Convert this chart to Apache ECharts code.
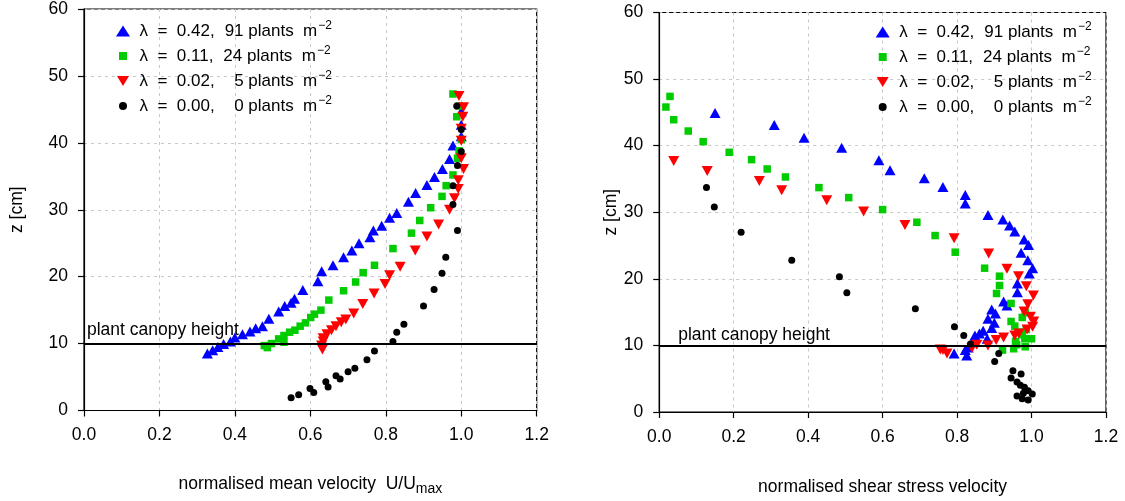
<!DOCTYPE html>
<html>
<head>
<meta charset="utf-8">
<script src="https://cdn.jsdelivr.net/npm/echarts@6/dist/echarts.min.js"></script>
<style>html,body{margin:0;padding:0;background:#fff}#c{width:1125px;height:501px}</style>
</head>
<body>
<div id="c"></div>
<script>
// ---- data ----
const lambdas = ['0.42', '0.11', '0.02', '0.00'];
const plants = ['91', '24', '5', '0'];
const canopyHeight = 10;
const canopyLabel = 'plant canopy height';
const leftXTitle = 'normalised mean velocity  U/U';
const leftXSub = 'max';
const rightXTitle = 'normalised shear stress velocity';
const yTitle = 'z [cm]';

// left panel: normalised mean velocity vs z
const leftBlue = [[1.0,44.7],[1.0,42.7],[1.0,41.0],[0.978,39.6],[0.969,37.6],[0.95,36.1],[0.929,34.9],[0.909,33.7],[0.879,32.5],[0.86,31.2],[0.829,29.5],[0.81,28.8],[0.789,27.6],[0.767,26.9],[0.758,25.9],[0.729,25.0],[0.71,23.9],[0.688,22.9],[0.66,21.7],[0.63,20.8],[0.62,19.3],[0.58,18.0],[0.558,16.7],[0.549,16.1],[0.532,15.6],[0.516,14.8],[0.49,13.7],[0.473,12.6],[0.455,12.3],[0.44,11.8],[0.42,11.4],[0.40,10.9],[0.388,10.3],[0.37,9.95],[0.355,9.5],[0.341,9.0],[0.327,8.5]];
const leftGreen = [[0.978,47.3],[0.994,45.5],[0.988,43.9],[1.0,40.5],[0.994,38.8],[0.99,37.7],[0.978,35.2],[0.96,33.6],[0.949,32.0],[0.919,30.3],[0.89,28.4],[0.868,26.5],[0.819,24.2],[0.77,21.7],[0.74,20.6],[0.72,19.2],[0.688,17.9],[0.649,16.5],[0.628,15.0],[0.611,14.4],[0.601,13.9],[0.587,13.1],[0.573,12.6],[0.559,12.0],[0.545,11.7],[0.53,11.2],[0.516,10.7],[0.53,10.2],[0.497,10.0],[0.478,9.7],[0.486,9.4]];
const leftRed = [[0.994,47.0],[1.006,45.3],[1.004,43.9],[1.0,42.1],[1.0,40.3],[1.0,37.7],[1.006,36.1],[0.992,34.4],[0.992,33.1],[0.982,31.7],[0.969,30.0],[0.94,27.8],[0.909,26.0],[0.878,23.9],[0.838,21.5],[0.81,20.2],[0.798,18.9],[0.769,17.5],[0.739,15.9],[0.715,14.5],[0.694,13.6],[0.682,13.2],[0.668,12.6],[0.656,12.0],[0.644,11.4],[0.634,10.8],[0.634,10.3],[0.63,9.7],[0.632,9.1]];
const leftBlack = [[0.988,45.5],[1.0,42.0],[1.0,38.7],[0.99,36.6],[0.978,33.6],[0.978,30.8],[0.99,26.9],[0.959,22.9],[0.949,20.5],[0.928,18.1],[0.9,15.6],[0.848,12.9],[0.829,11.7],[0.819,10.3],[0.77,8.9],[0.75,7.6],[0.718,6.3],[0.70,5.8],[0.679,4.7],[0.668,5.2],[0.647,3.5],[0.641,4.3],[0.609,2.7],[0.599,3.3],[0.569,2.35],[0.549,1.9]];

// right panel: normalised shear stress velocity vs z
const rightBlue = [[0.15,44.9],[0.309,43.1],[0.389,41.2],[0.49,39.7],[0.59,37.8],[0.62,36.3],[0.712,35.1],[0.762,33.8],[0.822,32.6],[0.822,31.3],[0.883,29.6],[0.923,28.9],[0.941,28.0],[0.955,27.1],[0.98,25.9],[0.992,25.1],[0.972,23.9],[0.99,22.8],[1.003,21.6],[0.994,20.8],[0.962,19.3],[0.962,18.0],[0.925,16.6],[0.934,16.0],[0.893,15.4],[0.903,14.8],[0.883,14.0],[0.9,13.4],[0.893,12.6],[0.87,12.2],[0.86,11.8],[0.848,11.5],[0.881,11.0],[0.843,10.5],[0.83,9.7],[0.822,9.3],[0.826,8.5],[0.792,8.8]];
const rightGreen = [[0.029,47.4],[0.018,45.8],[0.039,43.9],[0.078,42.2],[0.118,40.6],[0.188,39.0],[0.248,37.9],[0.29,36.5],[0.339,35.3],[0.429,33.7],[0.509,32.2],[0.6,30.4],[0.692,28.5],[0.741,26.5],[0.795,24.0],[0.874,21.6],[0.914,20.4],[0.914,19.0],[0.906,17.8],[0.945,16.3],[0.983,14.9],[0.975,14.2],[0.945,13.6],[0.955,12.9],[0.986,12.4],[0.965,12.0],[0.975,11.6],[1.0,11.0],[0.982,11.0],[0.957,10.6],[0.96,10.1],[0.983,9.8],[0.952,9.5],[0.922,9.3]];
const rightRed = [[0.039,37.7],[0.129,36.2],[0.269,34.7],[0.329,33.3],[0.45,31.8],[0.549,30.1],[0.66,28.1],[0.792,26.1],[0.885,23.8],[0.934,21.5],[0.965,20.4],[0.986,18.9],[1.005,17.5],[0.99,16.2],[0.98,15.1],[0.997,14.3],[1.006,13.6],[1.003,12.8],[0.988,12.4],[0.966,11.8],[0.955,11.5],[0.925,11.2],[0.905,10.8],[0.883,10.0],[0.853,10.1],[0.84,9.6],[0.762,9.3],[0.773,8.8],[0.755,9.4]];
const rightBlack = [[0.127,33.7],[0.148,30.8],[0.22,27.0],[0.356,22.8],[0.484,20.3],[0.504,17.9],[0.688,15.5],[0.793,12.8],[0.818,11.5],[0.836,10.2],[0.912,8.8],[0.901,7.6],[0.95,6.2],[0.972,5.7],[0.945,5.1],[0.961,4.5],[0.97,4.0],[0.981,3.7],[0.991,3.2],[1.002,2.7],[0.978,2.8],[0.961,2.4],[0.975,2.0],[0.991,1.8]];

// ---- chart ----
const FONT = "'Liberation Sans', Arial, sans-serif";
const FS = 17.5;
const LFS = 17;
const colors = ['#0000ff', '#00cc00', '#ff0000', '#000000'];
const symbols = ['triangle', 'rect', 'path://M0,0L10,0L5,10Z', 'circle'];
const sizes = [[11, 10], 7.5, [11, 10], 7];
// legend icons drawn in a 15x12 box (invisible corner moves keep the box size)
const legendIcons = [
  'path://M0,0M15,12M0.5,11.5L7.5,0.5L14.5,11.5Z',
  'path://M0,0M15,12M3.5,2h8v8h-8z',
  'path://M0,0M15,12M1.5,1h12l-6,10z',
  'path://M0,0M15,12M3.5,6a4,4 0 1,0 8,0a4,4 0 1,0 -8,0z'
];
const names = lambdas.map(l => 'λ = ' + l);

const chart = echarts.init(document.getElementById('c'), null, {renderer: 'canvas'});

function xAxisCfg(gi, nameRich, gap) {
  return {
    type: 'value', gridIndex: gi, min: 0, max: 1.2, interval: 0.2,
    axisLine: {show: true, onZero: false, lineStyle: {color: '#000', width: 1.2}},
    axisTick: {show: true, inside: false, length: 6, lineStyle: {color: '#000', width: 1.2}},
    axisLabel: {margin: 16, color: '#000', fontSize: FS, fontFamily: FONT, formatter: v => v.toFixed(1)},
    splitLine: {show: true, lineStyle: {color: '#c8c8c8', type: [3, 4], width: 1}},
    name: nameRich, nameLocation: 'middle', nameGap: gap,
    nameTextStyle: {color: '#000', fontSize: FS, fontFamily: FONT,
      rich: {t: {fontSize: FS, fontFamily: FONT, color: '#000', lineHeight: 20},
             sub: {fontSize: 14, fontFamily: FONT, color: '#000', padding: [9, 0, 0, 0], lineHeight: 20}}}
  };
}
function yAxisCfg(gi, gap) {
  return {
    type: 'value', gridIndex: gi, min: 0, max: 60, interval: 10,
    axisLine: {show: true, onZero: false, lineStyle: {color: '#000', width: 1.2}},
    axisTick: {show: true, inside: false, length: 6, lineStyle: {color: '#000', width: 1.2}},
    axisLabel: {margin: 16, color: '#000', fontSize: FS, fontFamily: FONT},
    splitLine: {show: true, lineStyle: {color: '#c8c8c8', type: [3, 4], width: 1}},
    name: yTitle, nameLocation: 'middle', nameGap: gap, nameRotate: 90,
    nameTextStyle: {color: '#000', fontSize: FS, fontFamily: FONT}
  };
}
function legendCfg(left, top) {
  return {
    left: left, top: top, orient: 'vertical', itemWidth: 15, itemHeight: 12, itemGap: 3,
    data: names.map((n, i) => ({name: n, icon: legendIcons[i]})), selectedMode: false,
    formatter: function (n) {
      const i = names.indexOf(n);
      const pad = plants[i].length === 1 ? '{d| }' : '';
      return '{g| }{t|λ  =  ' + lambdas[i] + ',}{sp| }' + pad + '{t|' + plants[i] + ' plants  m}{s|−2}';
    },
    textStyle: {color: '#000', fontSize: LFS, fontFamily: FONT, lineHeight: 20,
      rich: {t: {fontSize: LFS, fontFamily: FONT, color: '#000', lineHeight: 20},
             g: {width: 4, lineHeight: 20},
             sp: {width: 10, lineHeight: 20},
             d: {width: 9.5, lineHeight: 20},
             s: {fontSize: 12, fontFamily: FONT, color: '#000', padding: [0, 0, 10, 1], lineHeight: 20}}}
  };
}
function canopyMark(dist) {
  return {
    silent: true, symbol: 'none',
    lineStyle: {color: '#000', width: 2, type: 'solid'},
    label: {show: true, position: 'insideStartTop', formatter: canopyLabel, color: '#000',
            fontSize: FS, fontFamily: FONT, distance: dist},
    data: [{yAxis: canopyHeight}]
  };
}

const datasets = [[leftBlue, leftGreen, leftRed, leftBlack], [rightBlue, rightGreen, rightRed, rightBlack]];
const series = [];
datasets.forEach((set, gi) => {
  set.forEach((d, si) => {
    const s = {
      type: 'scatter', name: names[si], xAxisIndex: gi, yAxisIndex: gi, data: d,
      symbol: symbols[si], symbolSize: sizes[si],
      itemStyle: {color: colors[si], opacity: 1}, emphasis: {disabled: true}, z: 2 + si
    };
    if (si === 0) s.markLine = canopyMark(gi === 0 ? [3, 4] : [19, 1]);
    series.push(s);
  });
});

chart.setOption({
  backgroundColor: '#fff',
  animation: false,
  textStyle: {fontFamily: FONT},
  grid: [
    {left: 84, top: 6.7, right: 588.3, bottom: 83.3, show: true, borderColor: '#000', borderWidth: 1.2, containLabel: false},
    {left: 659.2, top: 12.5, right: 19, bottom: 82.5, show: true, borderColor: '#000', borderWidth: 1.2, containLabel: false}
  ],
  xAxis: [
    xAxisCfg(0, '{t|' + leftXTitle + '}{sub|' + leftXSub + '}', 64),
    xAxisCfg(1, '{t|' + rightXTitle + '}', 65)
  ],
  yAxis: [yAxisCfg(0, 58), yAxisCfg(1, 37)],
  legend: [legendCfg(110.5, 15), legendCfg(870.2, 16)],
  series: series
});
</script>
</body>
</html>
